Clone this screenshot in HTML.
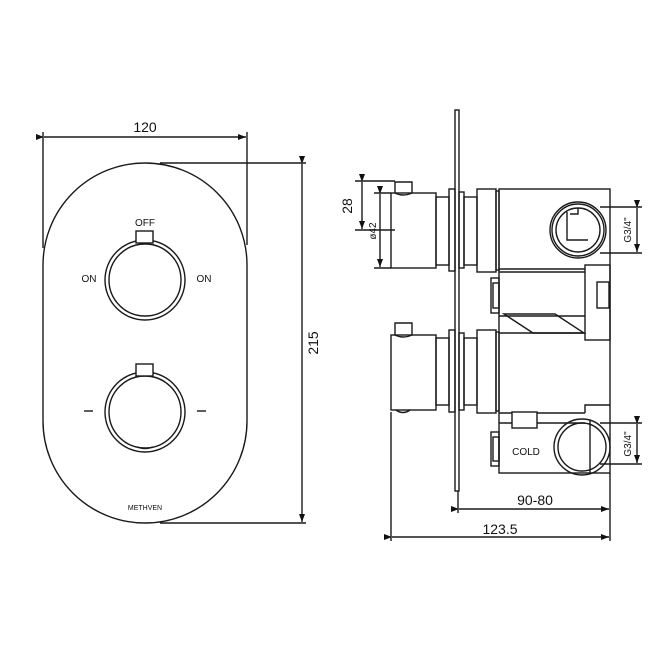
<!DOCTYPE html>
<html><head><style>body{margin:0;background:#fff}svg{display:block}text{font-family:"Liberation Sans",sans-serif;fill:#111}</style></head><body>
<svg width="650" height="650" viewBox="0 0 650 650" xmlns="http://www.w3.org/2000/svg">
<defs><marker id="a" markerWidth="8" markerHeight="6" refX="8" refY="3" orient="auto" markerUnits="userSpaceOnUse"><path d="M0,0 L8,3 L0,6z" fill="#111"/></marker></defs>
<g fill="none" stroke="#1a1a1a" stroke-width="1.4">
<rect x="43" y="163" width="204" height="360" rx="102" ry="102"/>
<line x1="43" y1="132" x2="43" y2="248"/><line x1="247" y1="132" x2="247" y2="245"/>
<line x1="44" y1="137" x2="246" y2="137" marker-start="url(#a)" marker-end="url(#a)"/>
<line x1="160" y1="163" x2="306" y2="163"/><line x1="160" y1="523" x2="306" y2="523"/>
<line x1="302" y1="164" x2="302" y2="522" marker-start="url(#a)" marker-end="url(#a)"/>
<circle cx="145" cy="280" r="40"/><circle cx="145" cy="280" r="36"/>
<rect x="136" y="231" width="17" height="12" fill="#fff"/>
<circle cx="145" cy="412" r="40"/><circle cx="145" cy="412" r="36"/>
<rect x="136" y="364" width="17" height="12" fill="#fff"/>
<path d="M137,447 Q145,450 153,447"/>
<line x1="84" y1="411" x2="93" y2="411"/><line x1="197" y1="411" x2="206" y2="411"/>
<rect x="455" y="110" width="4" height="381"/>
<path d="M395,193 L395,182 L412,182 L412,193 Q403,197 395,193z"/>
<rect x="391" y="193" width="45" height="75"/>
<rect x="436" y="197" width="13" height="68"/>
<rect x="449" y="189" width="6" height="82"/>
<rect x="459" y="192" width="5" height="76"/>
<rect x="464" y="197" width="13" height="68"/>
<rect x="477" y="189" width="19" height="83"/>
<rect x="496" y="191" width="3" height="79"/>
<path d="M395,335 L395,323 L412,323 L412,335 Q403,339 395,335z"/>
<rect x="391" y="335" width="45" height="75"/>
<path d="M396,410 Q403,415 410,410"/>
<rect x="436" y="338" width="13" height="67"/>
<rect x="449" y="330" width="6" height="82"/>
<rect x="459" y="333" width="5" height="77"/>
<rect x="464" y="338" width="13" height="67"/>
<rect x="477" y="330" width="19" height="83"/>
<rect x="496" y="332" width="3" height="79"/>
<rect x="499" y="189" width="111" height="284"/>
<line x1="499" y1="269" x2="585" y2="269"/><line x1="499" y1="272" x2="585" y2="272"/>
<line x1="499" y1="316" x2="585" y2="316"/><line x1="499" y1="333" x2="585" y2="333"/>
<rect x="585" y="265" width="25" height="75"/>
<rect x="597" y="282" width="12" height="26"/>
<path d="M504,314 L555,314 L584,333 L533,333z"/>
<rect x="491" y="278" width="8" height="35"/><rect x="493" y="283" width="6" height="25"/>
<rect x="491" y="432" width="8" height="34"/><rect x="493" y="437" width="6" height="24"/>
<line x1="499" y1="413" x2="585" y2="413"/><line x1="499" y1="423" x2="585" y2="423"/>
<rect x="512" y="412" width="25" height="16" fill="#fff"/>
<path d="M585,413 L585,405 L610,405"/>
<circle cx="578" cy="230" r="28"/><circle cx="578" cy="230" r="26"/><circle cx="578" cy="230" r="22"/>
<path d="M567,212 L567,240 L588,240"/><path d="M578,208 L578,214 L570,214"/>
<circle cx="582" cy="447" r="28"/><circle cx="582" cy="447" r="24"/>
<line x1="590" y1="420" x2="590" y2="474"/>
<line x1="355" y1="181" x2="395" y2="181"/>
<line x1="355" y1="230" x2="395" y2="230"/>
<line x1="362" y1="182" x2="362" y2="229" marker-start="url(#a)" marker-end="url(#a)"/>
<line x1="374" y1="193" x2="391" y2="193"/><line x1="374" y1="268" x2="391" y2="268"/>
<line x1="380" y1="194" x2="380" y2="267" marker-start="url(#a)" marker-end="url(#a)"/>
<line x1="600" y1="207" x2="642" y2="207"/><line x1="600" y1="253" x2="642" y2="253"/>
<line x1="637" y1="208" x2="637" y2="252" marker-start="url(#a)" marker-end="url(#a)"/>
<line x1="600" y1="423" x2="642" y2="423"/><line x1="600" y1="464" x2="642" y2="464"/>
<line x1="637" y1="424" x2="637" y2="463" marker-start="url(#a)" marker-end="url(#a)"/>
<line x1="458" y1="491" x2="458" y2="513"/>
<line x1="610" y1="473" x2="610" y2="541"/>
<line x1="391" y1="412" x2="391" y2="541"/>
<line x1="459" y1="509" x2="609" y2="509" marker-start="url(#a)" marker-end="url(#a)"/>
<line x1="392" y1="537" x2="609" y2="537" marker-start="url(#a)" marker-end="url(#a)"/>
</g>
<g font-size="10">
<text x="145" y="226" text-anchor="middle">OFF</text>
<text x="89" y="282" text-anchor="middle">ON</text>
<text x="204" y="282" text-anchor="middle">ON</text>
<text x="145" y="510" text-anchor="middle" font-size="7">METHVEN</text>
<text x="526" y="455" text-anchor="middle">COLD</text>
</g>
<g font-size="14">
<text x="145" y="132" text-anchor="middle">120</text>
<text x="535" y="505" text-anchor="middle">90-80</text>
<text x="500" y="534" text-anchor="middle">123.5</text>
<text transform="translate(318,343) rotate(-90)" text-anchor="middle">215</text>
<text transform="translate(352,206) rotate(-90)" text-anchor="middle">28</text>
</g>
<g font-size="10">
<text transform="translate(376,231) rotate(-90)" text-anchor="middle">ø42</text>
<text transform="translate(631,230) rotate(-90)" text-anchor="middle">G3/4"</text>
<text transform="translate(631,444) rotate(-90)" text-anchor="middle">G3/4"</text>
</g>
</svg>
</body></html>
